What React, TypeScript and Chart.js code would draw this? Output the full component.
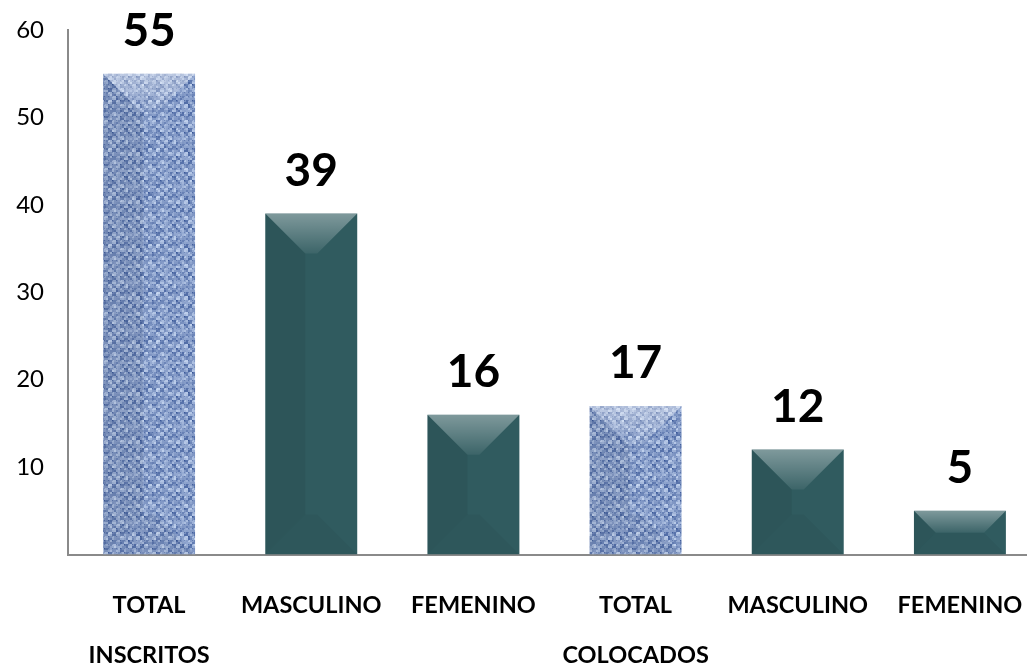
import React, { useEffect, useRef } from 'react';
import { Chart, registerables } from 'chart.js';

Chart.register(...registerables);

const categories: (string | string[])[] = [
  ['TOTAL', 'INSCRITOS'],
  'MASCULINO',
  'FEMENINO',
  ['TOTAL', 'COLOCADOS'],
  'MASCULINO',
  'FEMENINO',
];
const values = [55, 39, 16, 17, 12, 5];
const barKinds = ['textured', 'solid', 'solid', 'textured', 'solid', 'solid'];
const yTicks = [10, 20, 30, 40, 50, 60];

const FONT = 'Lato, Carlito, Calibri, "Open Sans", sans-serif';
const TEAL = '#305b5f';

function hash(x: number, y: number): number {
  let h = (x * 374761393 + y * 668265263) | 0;
  h = (h ^ (h >>> 13)) * 1274126177;
  h = h ^ (h >>> 16);
  return ((h >>> 0) % 1000) / 1000;
}

function makeDenim(): CanvasPattern | string {
  const size = 48;
  const c = document.createElement('canvas');
  c.width = size;
  c.height = size;
  const g = c.getContext('2d');
  if (!g) return '#7592c8';
  const img = g.createImageData(size, size);
  for (let y = 0; y < size; y++) {
    for (let x = 0; x < size; x++) {
      const n = hash(Math.floor(x / 2), Math.floor(y / 2));
      const n2 = hash(Math.floor(x / 4) + 17, Math.floor(y / 4) + 50);
      const weave = (Math.floor(x / 4) + Math.floor(y / 4)) % 2 === 0;
      let t = weave ? 0.68 : 0.45;
      t += (n - 0.5) * 0.35 + (n2 - 0.5) * 0.3;
      if (x % 4 === 0 && y % 4 === 0) t -= 0.25;
      t = Math.max(0, Math.min(1, t));
      const r = 55 + (200 - 55) * t;
      const gg = 85 + (216 - 85) * t;
      const b = 150 + (242 - 150) * t;
      const i = (y * size + x) * 4;
      img.data[i] = r;
      img.data[i + 1] = gg;
      img.data[i + 2] = b;
      img.data[i + 3] = 255;
    }
  }
  g.putImageData(img, 0, 0);
  const p = g.createPattern(c, 'repeat');
  return p || '#7592c8';
}

const bevelPlugin = {
  id: 'bevelAndLabels',
  afterDatasetsDraw(chart: any) {
    const ctx = chart.ctx as CanvasRenderingContext2D;
    const meta = chart.getDatasetMeta(0);
    meta.data.forEach((bar: any, i: number) => {
      const w = bar.width;
      const l = bar.x - w / 2;
      const r = bar.x + w / 2;
      const t = Math.min(bar.y, bar.base);
      const bot = Math.max(bar.y, bar.base);
      const h = bot - t;
      const b = Math.min(40, h / 2, w / 2);
      ctx.save();
      const gTop = ctx.createLinearGradient(0, t, 0, t + b);
      gTop.addColorStop(0, 'rgba(255,255,255,0.38)');
      gTop.addColorStop(1, 'rgba(255,255,255,0.06)');
      ctx.fillStyle = gTop;
      ctx.beginPath();
      ctx.moveTo(l, t);
      ctx.lineTo(r, t);
      ctx.lineTo(r - b, t + b);
      ctx.lineTo(l + b, t + b);
      ctx.closePath();
      ctx.fill();
      ctx.fillStyle = 'rgba(0,0,0,0.06)';
      ctx.beginPath();
      ctx.moveTo(l, t);
      ctx.lineTo(l + b, t + b);
      ctx.lineTo(l + b, bot - b);
      ctx.lineTo(l, bot);
      ctx.closePath();
      ctx.fill();
      ctx.fillStyle = 'rgba(0,0,0,0.04)';
      ctx.beginPath();
      ctx.moveTo(l, bot);
      ctx.lineTo(l + b, bot - b);
      ctx.lineTo(r - b, bot - b);
      ctx.lineTo(r, bot);
      ctx.closePath();
      ctx.fill();
      ctx.fillStyle = '#000000';
      ctx.font = `bold 46px ${FONT}`;
      ctx.textAlign = 'center';
      ctx.textBaseline = 'alphabetic';
      ctx.fillText(String(values[i]), bar.x, t - 28);
      ctx.restore();
    });
  },
};

export default function App() {
  const ref = useRef<HTMLCanvasElement | null>(null);

  useEffect(() => {
    if (!ref.current) return;
    const denim = makeDenim();
    const colors = barKinds.map((k) => (k === 'textured' ? denim : TEAL));
    const chart = new Chart(ref.current, {
      type: 'bar',
      data: {
        labels: categories,
        datasets: [
          {
            data: values,
            backgroundColor: colors as any,
            borderWidth: 0,
            categoryPercentage: 1,
            barPercentage: 0.567,
          },
        ],
      },
      options: {
        responsive: false,
        animation: false,
        devicePixelRatio: 1,
        layout: { padding: { top: 30, left: 0, right: 0, bottom: 0 } },
        plugins: {
          legend: { display: false },
          tooltip: { enabled: false },
        },
        scales: {
          x: {
            grid: { display: false, drawTicks: false },
            border: { display: true, color: '#8a8a8a', width: 2 },
            afterFit: (scale: any) => {
              scale.height = 125.5;
              scale.paddingLeft = 0;
              scale.paddingRight = 0;
              scale.paddingTop = 0;
              scale.paddingBottom = 0;
            },
            ticks: {
              color: '#000000',
              padding: 25.5,
              maxRotation: 0,
              autoSkip: false,
              font: { family: FONT, size: 23.5, weight: 'bold', lineHeight: 50 / 23.5 },
            },
          },
          y: {
            min: 0,
            max: 60,
            grid: { display: false, drawTicks: false },
            border: { display: true, color: '#8a8a8a', width: 2 },
            afterBuildTicks: (scale: any) => {
              scale.ticks = yTicks.map((v) => ({ value: v }));
            },
            afterFit: (scale: any) => {
              scale.width = 68;
              scale.paddingTop = 0;
              scale.paddingBottom = 0;
              scale.paddingLeft = 0;
              scale.paddingRight = 0;
            },
            ticks: {
              color: '#000000',
              padding: 24,
              font: { family: FONT, size: 24, weight: 'normal' },
            },
          },
        },
      },
      plugins: [bevelPlugin],
    });
    return () => chart.destroy();
  }, []);

  return (
    <div
      style={{
        position: 'fixed',
        left: 0,
        top: 0,
        width: 1027,
        height: 665,
        overflow: 'hidden',
        background: '#ffffff',
      }}
    >
      <canvas ref={ref} width={1041} height={680} style={{ display: 'block' }} />
    </div>
  );
}
